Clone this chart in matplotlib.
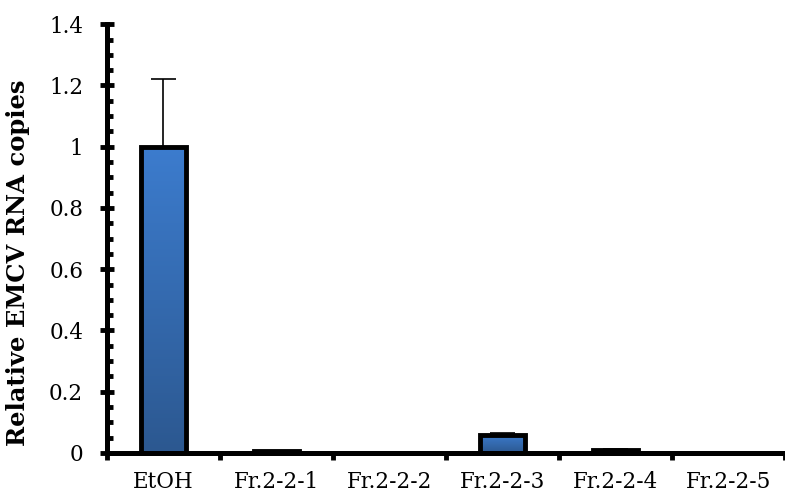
import matplotlib
matplotlib.use("Agg")
import matplotlib.pyplot as plt
import numpy as np
from matplotlib.ticker import MultipleLocator, FuncFormatter

categories = ["EtOH", "Fr.2-2-1", "Fr.2-2-2", "Fr.2-2-3", "Fr.2-2-4", "Fr.2-2-5"]
values = [1.0, 0.005, 0.001, 0.06, 0.01, 0.0005]
errors = [0.22, 0.001, 0.0005, 0.005, 0.002, 0.0002]
ytick_vals = [0, 0.2, 0.4, 0.6, 0.8, 1.0, 1.2, 1.4]


def gradient_bars(ax, bars):
    """fill every bar with a vertical blue gradient"""
    grad = np.linspace(0, 1, 256).reshape(-1, 1)
    cmap = matplotlib.colors.LinearSegmentedColormap.from_list(
        "bl", ["#2c5890", "#3c7cce"])
    for b in bars:
        x0, y0 = b.get_x(), b.get_y()
        w, h = b.get_width(), b.get_height()
        if h <= 0:
            continue
        im = ax.imshow(grad, extent=[x0, x0 + w, y0, y0 + h], origin="lower",
                       aspect="auto", cmap=cmap, zorder=2)
        im.set_clip_path(b)


def fmt(v, pos):
    return "%g" % round(v, 2)


def main():
    plt.rcParams["font.family"] = "DejaVu Serif"
    fig = plt.figure(figsize=(7.85, 4.94), dpi=100)
    ax = fig.add_axes([0.136, 0.083, 0.864, 0.868])
    x = np.arange(len(categories))
    bg = ax.bar(x, values, width=0.4, color="none", edgecolor="none", zorder=1)
    gradient_bars(ax, bg)
    ax.bar(x, values, width=0.4, color="none", edgecolor="black",
           linewidth=3.5, zorder=3)
    ax.errorbar(x, values, yerr=[np.zeros(len(values)), errors], fmt="none",
                ecolor="black", elinewidth=1.2, capsize=9, capthick=1.2,
                zorder=2.5)

    ax.set_xlim(-0.5, len(categories) - 0.5)
    ax.set_ylim(0, 1.4)
    ax.set_xticks(x)
    ax.set_xticklabels(categories, fontsize=15.5)
    ax.set_xticks(np.arange(len(categories) + 1) - 0.5, minor=True)
    ax.tick_params(axis="x", which="major", length=0, pad=13)
    ax.tick_params(axis="x", which="minor", length=5, width=3.5,
                   direction="out")
    ax.set_yticks(ytick_vals)
    ax.yaxis.set_major_formatter(FuncFormatter(fmt))
    ax.yaxis.set_minor_locator(MultipleLocator(0.05))
    ax.tick_params(axis="y", which="major", labelsize=15.5, length=10,
                   width=3.5, direction="inout", pad=12)
    ax.tick_params(axis="y", which="minor", length=4, width=3.5,
                   direction="in")
    for s in ["top", "right"]:
        ax.spines[s].set_visible(False)
    for s in ["left", "bottom"]:
        ax.spines[s].set_linewidth(3.6)
    ax.set_ylabel("Relative EMCV RNA copies", fontsize=17.5, fontweight="bold",
                  labelpad=10)
    ax.yaxis.set_label_coords(-0.113, 0.443)
    fig.savefig("out.png", dpi=100)


if __name__ == '__main__':
    main()
